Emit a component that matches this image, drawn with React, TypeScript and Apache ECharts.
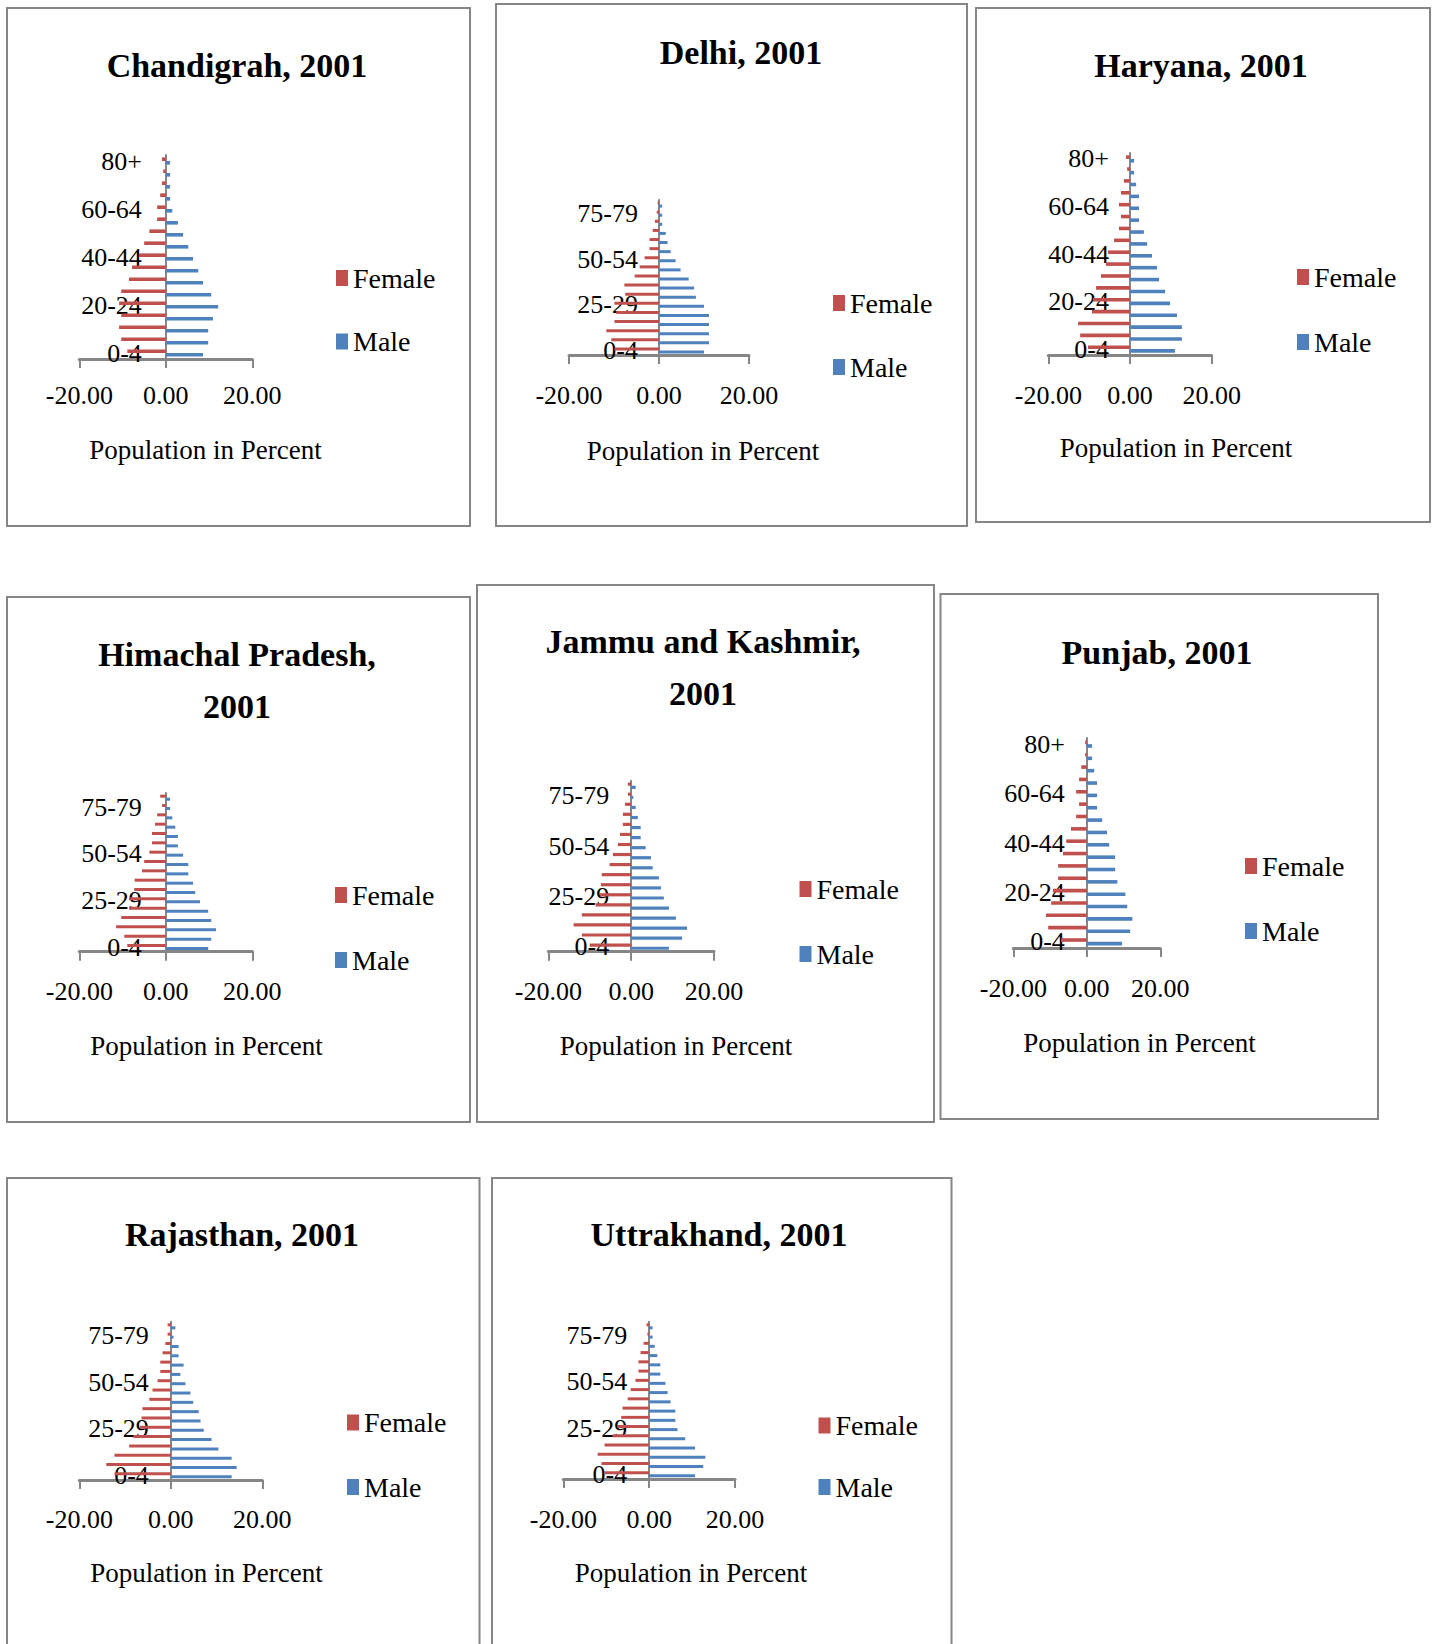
import React, { useEffect, useRef } from 'react';
import * as echarts from 'echarts';

const AGE_GROUPS = ['0-4', '5-9', '10-14', '15-19', '20-24', '25-29', '30-34', '35-39', '40-44', '45-49', '50-54', '55-59', '60-64', '65-69', '70-74', '75-79', '80+'];
const X_TICKS = [-20, 0, 20];
const SERIES_NAMES = ['Female', 'Male'];
const AXIS_TITLE = 'Population in Percent';

const STATE_TITLES = [
  'Chandigrah, 2001',
  'Delhi, 2001',
  'Haryana, 2001',
  'Himachal Pradesh,\n2001',
  'Jammu and Kashmir,\n2001',
  'Punjab, 2001',
  'Rajasthan, 2001',
  'Uttrakhand, 2001',
];

const CHANDIGARH_FEMALE = [-8.9, -10.3, -10.8, -10.3, -10.8, -10.3, -8.5, -7.8, -6.2, -5.0, -3.8, -2.0, -2.0, -1.3, -0.9, -0.6, -0.9];
const CHANDIGARH_MALE = [8.6, 9.8, 9.8, 10.9, 12.1, 10.5, 8.6, 7.5, 6.3, 5.2, 4.0, 2.8, 1.5, 1.0, 1.0, 1.0, 1.0];
const DELHI_FEMALE = [-9.9, -10.6, -11.7, -9.9, -9.5, -9.9, -7.5, -7.7, -5.4, -4.3, -3.2, -2.1, -2.1, -1.4, -0.9, -0.5, -0.3];
const DELHI_MALE = [10.0, 11.1, 11.1, 11.1, 11.1, 10.0, 8.2, 7.8, 6.6, 4.8, 3.7, 2.6, 1.9, 1.5, 0.7, 0.7, 0.7];
const HARYANA_FEMALE = [-10.3, -12.2, -12.7, -9.3, -9.1, -8.3, -7.1, -5.9, -5.4, -3.9, -2.7, -2.2, -2.7, -2.2, -1.5, -0.7, -1.0];
const HARYANA_MALE = [11.0, 12.7, 12.7, 11.5, 9.8, 8.6, 7.1, 6.6, 5.4, 4.2, 3.4, 2.2, 2.2, 2.2, 1.5, 1.0, 1.0];
const HIMACHAL_FEMALE = [-8.9, -9.6, -11.5, -10.3, -8.5, -8.5, -7.3, -7.2, -5.5, -5.0, -3.8, -3.2, -3.2, -2.5, -2.0, -0.85, -1.3];
const HIMACHAL_MALE = [9.8, 10.5, 11.6, 10.5, 9.8, 7.9, 6.8, 6.3, 5.2, 5.2, 4.0, 2.8, 2.8, 2.2, 1.5, 1.0, 1.0];
const JK_FEMALE = [-10.0, -11.9, -13.9, -11.9, -8.6, -7.5, -7.3, -7.1, -5.2, -4.4, -3.2, -2.7, -2.0, -2.0, -1.5, -0.8, -0.8];
const JK_MALE = [9.1, 12.3, 13.5, 10.8, 9.1, 7.9, 7.2, 6.7, 5.2, 4.8, 3.5, 2.3, 2.3, 1.6, 1.1, 0.5, 1.1];
const PUNJAB_FEMALE = [-7.0, -10.5, -11.1, -9.7, -9.2, -7.8, -7.8, -6.5, -5.6, -4.3, -2.9, -2.1, -2.9, -2.1, -1.5, -0.45, -0.45];
const PUNJAB_MALE = [9.6, 11.8, 12.4, 11.0, 10.5, 8.3, 7.7, 7.7, 6.1, 5.5, 4.2, 2.8, 2.8, 2.8, 2.0, 1.45, 1.45];
const RAJASTHAN_FEMALE = [-12.3, -14.1, -12.3, -9.1, -8.2, -6.8, -6.4, -6.2, -4.7, -4.0, -2.9, -2.3, -2.3, -1.8, -1.2, -0.7, -0.7];
const RAJASTHAN_MALE = [13.3, 14.4, 13.3, 10.4, 8.9, 7.2, 6.5, 6.1, 4.9, 4.3, 3.2, 2.1, 2.8, 1.7, 1.7, 0.6, 1.0];
const UTTRAKHAND_FEMALE = [-10.4, -11.1, -12.0, -10.4, -8.5, -7.4, -6.5, -6.2, -5.0, -4.3, -3.2, -2.5, -2.5, -2.0, -1.3, -0.4, -0.6];
const UTTRAKHAND_MALE = [10.7, 12.6, 13.1, 10.7, 8.4, 6.6, 6.1, 6.1, 5.0, 4.3, 3.8, 2.6, 2.6, 1.9, 1.3, 0.8, 0.8];

const FEMALE_SERIES = [CHANDIGARH_FEMALE, DELHI_FEMALE, HARYANA_FEMALE, HIMACHAL_FEMALE, JK_FEMALE, PUNJAB_FEMALE, RAJASTHAN_FEMALE, UTTRAKHAND_FEMALE];
const MALE_SERIES = [CHANDIGARH_MALE, DELHI_MALE, HARYANA_MALE, HIMACHAL_MALE, JK_MALE, PUNJAB_MALE, RAJASTHAN_MALE, UTTRAKHAND_MALE];

// layout (pixel positions) per panel
const LAYOUT = [
  { box: [7, 8, 470, 526], title: [237, 65], grid: [79.3, 155, 252.3, 359], yMargin: 24, xMargin: 23, legend: [336, 278, 341.5], axisTitle: [205.5, 450], interval: 3, barWidth: 3.6 },
  { box: [496, 4, 967, 526], title: [741, 52], grid: [569, 200, 749, 355], yMargin: 21, xMargin: 27, legend: [833, 303, 367], axisTitle: [703, 451], interval: 4, barWidth: 3 },
  { box: [976, 8, 1430, 522], title: [1201, 65], grid: [1048.3, 153, 1211.7, 355], yMargin: 21, xMargin: 27, legend: [1297, 277, 342], axisTitle: [1176, 448], interval: 3, barWidth: 3.6 },
  { box: [7, 597, 470, 1122], title: [237, 680], grid: [79.3, 793, 252.3, 951.7], yMargin: 24, xMargin: 27, legend: [335, 895, 960], axisTitle: [206.5, 1046], interval: 4, barWidth: 3 },
  { box: [477, 585, 934, 1122], title: [703, 667], grid: [548.3, 780.7, 714, 951.7], yMargin: 22, xMargin: 27, legend: [799.5, 889, 954], axisTitle: [676, 1046], interval: 4, barWidth: 3.2 },
  { box: [940.5, 594, 1378, 1119], title: [1157, 652], grid: [1013.3, 738, 1160.3, 948], yMargin: 22, xMargin: 27, legend: [1245, 866, 931], axisTitle: [1139.5, 1043], interval: 3, barWidth: 3.6 },
  { box: [7, 1178, 479.5, 1670], title: [242, 1234], grid: [79.3, 1321.7, 262.3, 1480], yMargin: 22, xMargin: 26, legend: [347, 1422.5, 1487], axisTitle: [206.5, 1573], interval: 4, barWidth: 3 },
  { box: [492, 1178, 951.5, 1670], title: [719, 1234], grid: [563.3, 1321.7, 735, 1479], yMargin: 22, xMargin: 27, legend: [818.5, 1425.5, 1487], axisTitle: [691, 1573], interval: 4, barWidth: 3 },
];

const SERIF = "'Liberation Serif', 'Times New Roman', serif";
const FEMALE_COLOR = '#C0504D';
const MALE_COLOR = '#4F81BD';
const AXIS_COLOR = '#868686';

function buildOption() {
  const grid: any[] = [];
  const xAxis: any[] = [];
  const yAxis: any[] = [];
  const series: any[] = [];
  const legend: any[] = [];
  const graphic: any[] = [];

  LAYOUT.forEach((L, i) => {
    const [gx0, gy0, gx1, gy1] = L.grid;
    const axisX = (gx0 + gx1) / 2;
    grid.push({ left: gx0, top: gy0, width: gx1 - gx0, height: gy1 - gy0, containLabel: false });
    xAxis.push({
      type: 'value',
      gridIndex: i,
      min: X_TICKS[0],
      max: X_TICKS[X_TICKS.length - 1],
      interval: X_TICKS[1] - X_TICKS[0],
      position: 'bottom',
      axisLine: { show: true, onZero: false, lineStyle: { color: AXIS_COLOR, width: 3 } },
      axisTick: { show: true, length: 9, lineStyle: { color: AXIS_COLOR, width: 2 } },
      splitLine: { show: false },
      axisLabel: {
        formatter: (v: number) => v.toFixed(2),
        fontSize: 26,
        fontFamily: SERIF,
        color: '#000',
        margin: L.xMargin,
      },
    });
    yAxis.push({
      type: 'category',
      gridIndex: i,
      data: AGE_GROUPS,
      boundaryGap: true,
      axisLine: { show: true, onZero: true, lineStyle: { color: AXIS_COLOR, width: 2 } },
      axisTick: { show: false },
      splitLine: { show: false },
      axisLabel: {
        interval: L.interval,
        fontSize: 26,
        fontFamily: SERIF,
        color: '#000',
        margin: gx0 - (axisX - L.yMargin),
      },
    });
    series.push({
      type: 'bar',
      name: SERIES_NAMES[0],
      xAxisIndex: i,
      yAxisIndex: i,
      data: FEMALE_SERIES[i],
      barWidth: L.barWidth,
      barGap: '0%',
      itemStyle: { color: FEMALE_COLOR },
      z: 1,
    });
    series.push({
      type: 'bar',
      name: SERIES_NAMES[1],
      xAxisIndex: i,
      yAxisIndex: i,
      data: MALE_SERIES[i],
      barWidth: L.barWidth,
      barGap: '0%',
      itemStyle: { color: MALE_COLOR },
      z: 1,
    });
    const [lx, fy, my] = L.legend;
    legend.push({
      orient: 'vertical',
      left: lx,
      top: fy - 15,
      padding: 0,
      itemWidth: 12,
      itemHeight: 16,
      itemGap: my - fy - 30,
      icon: 'rect',
      selectedMode: false,
      data: SERIES_NAMES,
      textStyle: { fontSize: 28, fontFamily: SERIF, color: '#000', lineHeight: 30 },
    });
    const [bx0, by0, bx1, by1] = L.box;
    graphic.push({
      type: 'rect',
      shape: { x: bx0, y: by0, width: bx1 - bx0, height: by1 - by0 },
      style: { fill: 'none', stroke: AXIS_COLOR, lineWidth: 2 },
      silent: true,
      z: -1,
    });
    graphic.push({
      type: 'text',
      x: L.title[0],
      y: L.title[1],
      style: {
        text: STATE_TITLES[i],
        fontSize: 34,
        fontWeight: 'bold',
        fontFamily: SERIF,
        fill: '#000',
        lineHeight: 52,
        align: 'center',
        textAlign: 'center',
        verticalAlign: 'middle',
        textVerticalAlign: 'middle',
      },
      silent: true,
    });
    graphic.push({
      type: 'text',
      x: L.axisTitle[0],
      y: L.axisTitle[1],
      style: {
        text: AXIS_TITLE,
        fontSize: 27,
        fontFamily: SERIF,
        fill: '#000',
        align: 'center',
        textAlign: 'center',
        verticalAlign: 'middle',
        textVerticalAlign: 'middle',
      },
      silent: true,
    });
  });

  return {
    animation: false,
    backgroundColor: '#ffffff',
    grid,
    xAxis,
    yAxis,
    series,
    legend,
    graphic,
  };
}

export default function App() {
  const ref = useRef<HTMLDivElement>(null);
  useEffect(() => {
    if (!ref.current) return;
    const chart = echarts.init(ref.current, null, { renderer: 'svg' });
    chart.setOption(buildOption() as any);
    return () => chart.dispose();
  }, []);
  return (
    <div
      ref={ref}
      style={{ position: 'absolute', left: 0, top: 0, width: 1435, height: 1644, background: '#fff' }}
    />
  );
}
